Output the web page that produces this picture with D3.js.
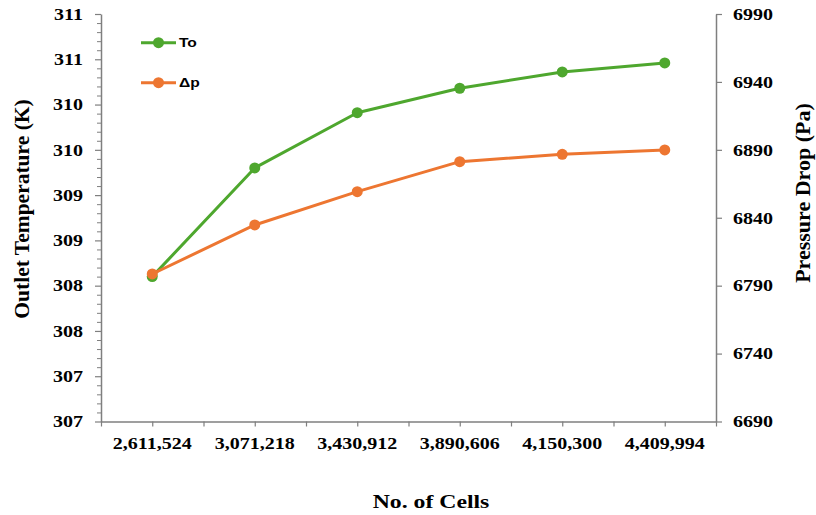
<!DOCTYPE html>
<html>
<head>
<meta charset="utf-8">
<script src="https://cdn.jsdelivr.net/npm/d3@7"></script>
<style>
  body { margin: 0; background: #fff; }
  text { font-family: "Liberation Serif", "Times New Roman", serif; font-weight: bold; fill: #000; }
</style>
</head>
<body>
<svg id="chart" width="816" height="515"></svg>
<script>
// Mesh-independence study: outlet temperature and pressure drop vs. cell count
const cells = ["2,611,524", "3,071,218", "3,430,912", "3,890,606", "4,150,300", "4,409,994"];
const outletTemp = [308.35, 309.55, 310.16, 310.43, 310.61, 310.71];
const pressureDrop = [6798.6, 6834.7, 6859.2, 6881.3, 6886.7, 6889.9];
const tempTicks = [306.75, 307.25, 307.75, 308.25, 308.75, 309.25, 309.75, 310.25, 310.75, 311.25];
const pressureTicks = [6690, 6740, 6790, 6840, 6890, 6940, 6990];
const seriesNames = ["To", "\u0394p"];

const green = "#4EA72E", orange = "#ED7631", axisColor = "#7f7f7f";
const sx = 1.25; // horizontal text stretch

const svg = d3.select("#chart");
const plot = { left: 101, right: 716, top: 14, bottom: 421.5 };

const x = d3.scaleBand().domain(cells).range([plot.left, plot.right]).padding(0);
const yT = d3.scaleLinear().domain([tempTicks[0], tempTicks[tempTicks.length - 1]]).range([plot.bottom, plot.top]);
const yP = d3.scaleLinear().domain([pressureTicks[0], pressureTicks[pressureTicks.length - 1]]).range([plot.bottom, plot.top]);

// Left axis with minor ticks
const minorT = d3.range(0, 46).map(i => tempTicks[0] + i * 0.1).filter((v, i) => i % 5 !== 0);
svg.append("g").attr("transform", `translate(${plot.left},0)`)
  .call(d3.axisLeft(yT).tickValues(minorT).tickSize(4).tickFormat(""))
  .call(g => g.select(".domain").remove())
  .call(g => g.selectAll("line").attr("stroke", axisColor).attr("stroke-width", 1));

const gL = svg.append("g").attr("transform", `translate(${plot.left},0)`)
  .call(d3.axisLeft(yT).tickValues(tempTicks).tickSize(6).tickSizeOuter(0)
    .tickFormat(d => d3.format(".0f")(Math.round(d))));
gL.select(".domain").attr("stroke", axisColor).attr("stroke-width", 1.5);
gL.selectAll("line").attr("stroke", axisColor).attr("stroke-width", 1.2);
gL.selectAll("text").attr("font-size", 16).attr("font-family", null)
  .attr("x", -18 / sx).attr("dy", "0.33em").attr("transform", `scale(${sx},1)`);

// Right axis
const gR = svg.append("g").attr("transform", `translate(${plot.right},0)`)
  .call(d3.axisRight(yP).tickValues(pressureTicks).tickSize(6).tickSizeOuter(0).tickFormat(d3.format("d")));
gR.select(".domain").attr("stroke", axisColor).attr("stroke-width", 1.5);
gR.selectAll("line").attr("stroke", axisColor).attr("stroke-width", 1.2);
gR.selectAll("text").attr("font-size", 16).attr("font-family", null)
  .attr("x", 17 / sx).attr("dy", "0.33em").attr("transform", `scale(${sx},1)`);

// Bottom axis: ticks at category edges and centres
const edgeTicks = d3.range(0, cells.length * 2 + 1).map(i => plot.left + i * x.bandwidth() / 2);
const xPos = d3.scaleIdentity().domain([plot.left, plot.right]);
const gB = svg.append("g").attr("transform", `translate(0,${plot.bottom})`)
  .call(d3.axisBottom(xPos).tickValues(edgeTicks).tickSize(5).tickSizeOuter(0).tickFormat(""));
gB.select(".domain").attr("stroke", axisColor).attr("stroke-width", 1.5);
gB.selectAll("line").attr("stroke", axisColor).attr("stroke-width", 1.2);

svg.append("g").selectAll("text").data(cells).join("text")
  .attr("transform", d => `translate(${x(d) + x.bandwidth() / 2},449) scale(${sx},1)`)
  .attr("text-anchor", "middle").attr("font-size", 16).text(d => d);

// Axis titles
svg.append("text").attr("transform", `translate(29,209) rotate(-90)`)
  .attr("text-anchor", "middle").attr("font-size", 21.5).text("Outlet Temperature (K)");
svg.append("text").attr("transform", `translate(810,193) rotate(-90)`)
  .attr("text-anchor", "middle").attr("font-size", 22).text("Pressure Drop (Pa)");
svg.append("text").attr("transform", `translate(431,508) scale(${sx},1)`)
  .attr("text-anchor", "middle").attr("font-size", 19).text("No. of Cells");

// Series
const cx = d => x(d) + x.bandwidth() / 2;
const series = [
  { name: seriesNames[0], values: outletTemp, y: yT, color: green },
  { name: seriesNames[1], values: pressureDrop, y: yP, color: orange }
];
series.forEach(s => {
  const pts = cells.map((c, i) => [cx(c), s.y(s.values[i])]);
  svg.append("path").attr("d", d3.line()(pts)).attr("fill", "none")
    .attr("stroke", s.color).attr("stroke-width", 3).attr("stroke-linejoin", "round");
  svg.append("g").selectAll("circle").data(pts).join("circle")
    .attr("cx", d => d[0]).attr("cy", d => d[1]).attr("r", 5.5).attr("fill", s.color);
});

// Legend
const legend = svg.append("g");
series.forEach((s, i) => {
  const ly = 42.7 + i * 40;
  legend.append("line").attr("x1", 141).attr("x2", 176).attr("y1", ly).attr("y2", ly)
    .attr("stroke", s.color).attr("stroke-width", 3);
  legend.append("circle").attr("cx", 158.5).attr("cy", ly).attr("r", 5.5).attr("fill", s.color);
  legend.append("text").attr("transform", `translate(179,${ly}) scale(${sx},1)`)
    .attr("dy", "0.35em").attr("font-size", 12.5)
    .style("font-family", "'Liberation Sans', Arial, sans-serif").text(s.name);
});
</script>
</body>
</html>
